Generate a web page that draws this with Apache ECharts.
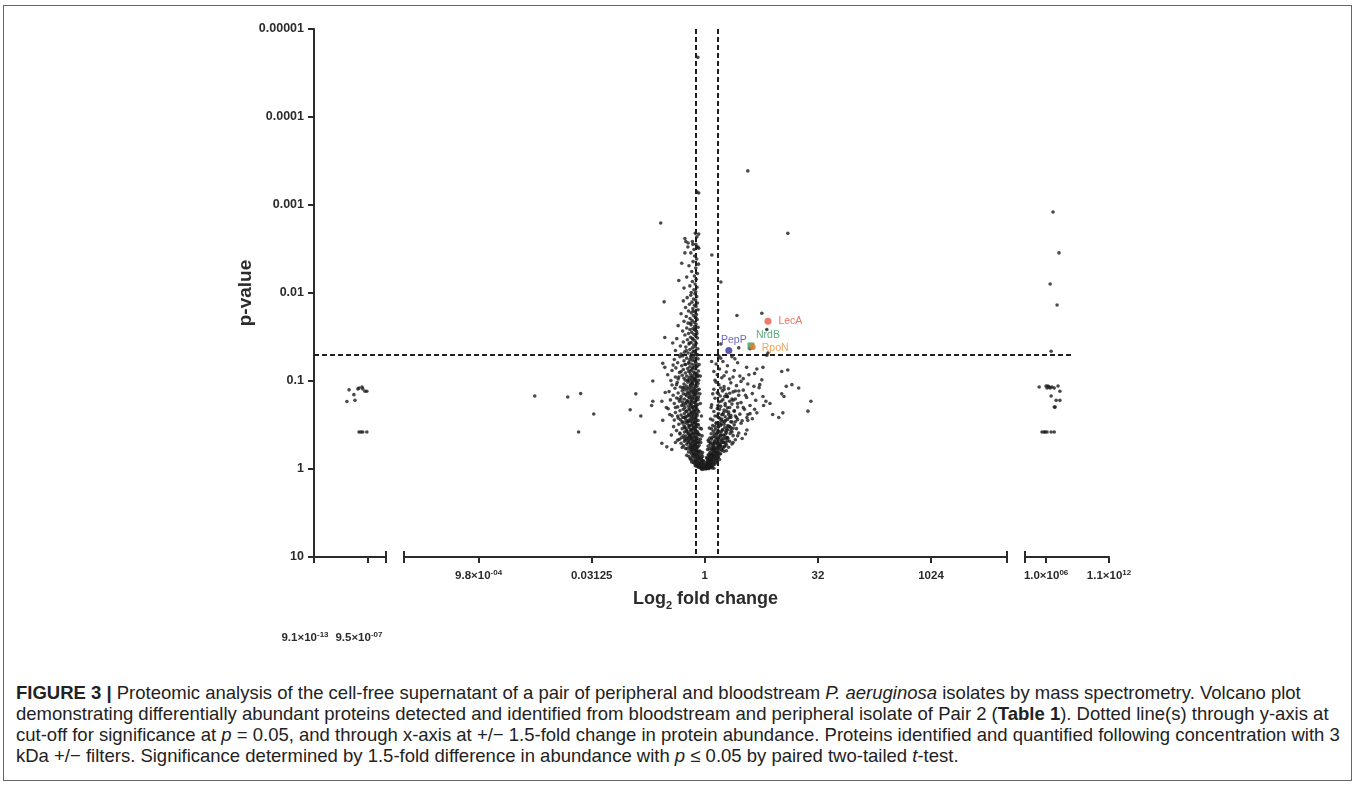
<!DOCTYPE html>
<html>
<head>
<meta charset="utf-8">
<title>Volcano plot - Pair 2</title>
<script src="https://cdn.jsdelivr.net/npm/echarts@6/dist/echarts.min.js"></script>
<style>
  html, body { margin: 0; padding: 0; background: #fff; }
  .frame { position: absolute; left: 3px; top: 5px; width: 1349px; height: 776px; border: 1.5px solid #666; box-sizing: border-box; }
  #chart { position: absolute; left: 0; top: 0; width: 1357px; height: 672px; }
  .caption { position: absolute; left: 16px; top: 682px; font-family: 'Liberation Sans', Arial, sans-serif; font-size: 18.5px; line-height: 21px; color: #222; white-space: nowrap; }
</style>
</head>
<body>
<div class="frame"></div>
<div id="chart"></div>
<div class="caption">
  <div><b>FIGURE 3 |</b> Proteomic analysis of the cell-free supernatant of a pair of peripheral and bloodstream <i>P. aeruginosa</i> isolates by mass spectrometry. Volcano plot</div>
  <div>demonstrating differentially abundant proteins detected and identified from bloodstream and peripheral isolate of Pair 2 (<b>Table 1</b>). Dotted line(s) through y-axis at</div>
  <div>cut-off for significance at <i>p</i> = 0.05, and through x-axis at +/− 1.5-fold change in protein abundance. Proteins identified and quantified following concentration with 3</div>
  <div>kDa +/− filters. Significance determined by 1.5-fold difference in abundance with <i>p</i> ≤ 0.05 by paired two-tailed <i>t</i>-test.</div>
</div>
<script>
// x values are log2 fold change, y values are p-values
const yTickLabels = ['0.00001', '0.0001', '0.001', '0.01', '0.1', '1', '10']; // 10^-5 .. 10^1
const xTicksLeft = [-40, -20];
const xLabelsLeft = ['9.1×10^-13', '9.5×10^-07'];
const xTicksMid = [-10, -5, 0, 5, 10];
const xLabelsMid = ['9.8×10^-04', '0.03125', '1', '32', '1024'];
const xTicksRight = [20, 40];
const xLabelsRight = ['1.0×10^06', '1.1×10^12'];
const segLeft = [-40, -13.3];
const segMid = [-13.3, 13.36];
const segRight = [13.3, 40];
const pCut = 0.05;
const foldCut = [-0.4, 0.585];

const farLeft = [[-27.8,0.171],[-27.0,0.126],[-25.2,0.143],[-24.8,0.166],[-23.7,0.123],[-23.3,0.120],[-22.2,0.117],[-21.9,0.123],[-21.1,0.131],[-20.4,0.131],[-23.3,0.380],[-22.6,0.380],[-21.9,0.380],[-20.4,0.380]];

const farRight = [[22.2,0.0012],[24.1,0.0035],[21.3,0.0079],[23.5,0.0137],[21.6,0.046],[17.8,0.117],[20.0,0.114],[20.3,0.120],[20.6,0.114],[21.0,0.117],[21.3,0.120],[21.9,0.117],[22.6,0.120],[23.8,0.114],[24.4,0.131],[21.6,0.148],[23.2,0.166],[24.4,0.166],[22.6,0.198],[22.9,0.198],[18.7,0.380],[19.4,0.380],[19.7,0.380],[20.3,0.380],[21.6,0.380],[22.6,0.380]];

const midOutliers = [[-0.31,0.000021],[-0.35,0.00071],[-0.27,0.00073],[-0.27,0.00214],[1.90,0.00041],[-1.95,0.0016],[3.67,0.0021],[-0.84,0.0026],[-0.75,0.0030],[-0.53,0.0028],[-0.35,0.0030],[-0.27,0.0031],[0.31,0.0037],[0.71,0.0075],[1.42,0.018],[2.52,0.017],[2.74,0.026],[2.79,0.048],[2.0,0.043],[1.5,0.042],[0.71,0.038],
  [-7.52,0.148],[-6.06,0.152],[-5.49,0.139],[-4.91,0.237],[-5.58,0.380],[-3.30,0.212],[-3.05,0.14],[-2.83,0.25],[-2.3,0.1],[-2.3,0.17],[-2.35,0.19]];

const leftArmTop = [[-0.42,0.0021],[-0.35,0.0023],[-0.88,0.0024],[-0.74,0.0027],[-0.55,0.0026],[-0.40,0.0028],[-0.31,0.0030],[-0.48,0.0032],[-0.62,0.0035],[-0.88,0.0035],[-1.02,0.0046],[-0.45,0.0038],[-0.36,0.0041],[-0.52,0.0044],[-0.70,0.0049],[-0.40,0.0052],[-0.58,0.0057],[-0.33,0.0060],[-0.46,0.0064],[-0.80,0.0066],[-0.38,0.0070],[-0.55,0.0074],[-0.43,0.0079],[-0.66,0.0083],[-0.35,0.0086],[-0.92,0.0088],[-0.48,0.0092],[-0.40,0.0097],[-0.60,0.0099],[-1.15,0.0072],[-0.28,0.0047],
  [-0.44,0.0102],[-0.62,0.0106],[-0.36,0.011],[-0.78,0.0113],[-0.50,0.0117],[-0.41,0.012],[-0.95,0.0123],[-0.57,0.0127],[-0.33,0.013],[-0.68,0.0134],[-0.46,0.0138],[-0.39,0.0142],[-0.85,0.0146],[-0.53,0.015],[-0.30,0.0155],[-0.72,0.016],[-0.44,0.0164],[-0.60,0.0168],[-1.05,0.0172],[-0.37,0.0176],[-0.50,0.018],[-0.82,0.0185],[-0.42,0.019],[-0.65,0.0195],[-0.34,0.02],[-0.56,0.0205],[-0.92,0.021],[-0.47,0.0215],[-0.74,0.022],[-0.39,0.0225],[-0.61,0.023],[-1.18,0.0235],[-0.45,0.024],[-0.30,0.0245],[-0.80,0.025],[-0.53,0.0255],[-0.66,0.026],[-0.42,0.0265],[-0.98,0.027],[-0.36,0.0275],[-0.58,0.028],[-0.72,0.0288],[-0.48,0.0295],[-0.88,0.030],[-0.40,0.031],[-0.63,0.0318],[-1.24,0.033],[-0.33,0.0325],[-0.52,0.0335],[-0.77,0.034],[-0.44,0.035],[-1.42,0.037],[-0.95,0.036],[-0.60,0.0365],[-0.38,0.0372],[-0.70,0.038],[-0.49,0.039],[-1.08,0.040],[-0.84,0.041],[-0.55,0.042],[-0.31,0.043],[-0.66,0.044],[-1.30,0.045],[-0.46,0.046],[-0.90,0.047],[-0.74,0.048],[-0.41,0.049],[-1.05,0.0495],[-0.58,0.0485],[-1.77,0.032],[-1.80,0.0126]];

const leftArmMid = [[-0.35,0.051],[-0.62,0.052],[-1.10,0.053],[-0.48,0.054],[-0.80,0.055],[-0.30,0.056],[-1.35,0.057],[-0.55,0.058],[-0.92,0.059],[-0.42,0.06],[-0.70,0.061],[-1.86,0.063],[-1.20,0.062],[-0.38,0.063],[-0.58,0.064],[-0.85,0.065],[-0.47,0.066],[-1.02,0.067],[-0.33,0.068],[-0.66,0.069],[-1.77,0.07],[-0.52,0.07],[-1.28,0.071],[-0.76,0.072],[-0.40,0.073],[-0.95,0.074],[-0.60,0.075],[-1.45,0.076],[-0.28,0.077],[-0.72,0.078],[-0.50,0.079],[-1.12,0.08],[-0.86,0.081],[-0.36,0.082],[-0.64,0.083],[-1.64,0.085],[-0.45,0.084],[-1.00,0.086],[-0.56,0.087],[-0.80,0.088],[-0.32,0.089],[-1.30,0.09],[-0.68,0.091],[-0.48,0.092],[-0.92,0.093],[-0.40,0.094],[-1.18,0.095],[-0.60,0.096],[-0.75,0.097],[-0.27,0.098],[-1.50,0.099],[-0.53,0.1],[-0.86,0.098],[-0.44,0.0965],[-1.05,0.078],[-0.66,0.057],[-0.25,0.065],[-0.20,0.088],[-1.40,0.066],[-0.98,0.052],
  [-0.40,0.101],[-0.75,0.103],[-1.22,0.104],[-0.55,0.105],[-0.30,0.107],[-0.92,0.108],[-0.62,0.11],[-1.45,0.111],[-0.45,0.112],[-0.82,0.114],[-0.35,0.115],[-1.08,0.117],[-0.58,0.118],[-0.70,0.12],[-1.32,0.121],[-0.48,0.123],[-0.25,0.124],[-0.88,0.126],[-0.63,0.127],[-1.00,0.129],[-0.40,0.13],[-1.58,0.132],[-0.76,0.133],[-0.52,0.135],[-1.18,0.137],[-0.33,0.138],[-0.95,0.14],[-0.66,0.142],[-0.44,0.143],[-1.40,0.145],[-0.80,0.147],[-0.57,0.149],[-1.05,0.15],[-0.28,0.152],[-0.70,0.154],[-1.25,0.156],[-0.47,0.158],[-0.90,0.16],[-0.61,0.162],[-1.90,0.17],[-1.52,0.164],[-0.38,0.166],[-0.78,0.168],[-1.12,0.17],[-0.53,0.172],[-0.98,0.174],[-0.42,0.176],[-0.68,0.178],[-1.35,0.18],[-0.85,0.182],[-0.31,0.185],[-0.59,0.187],[-1.02,0.19],[-0.73,0.192],[-0.46,0.194],[-1.20,0.197],[-0.88,0.2],[-0.55,0.202],[-0.36,0.205],[-1.62,0.207],[-0.95,0.21],[-0.67,0.212],[-0.49,0.215],[-1.10,0.218],[-0.80,0.22],[-0.27,0.223],[-0.61,0.226],[-1.30,0.228],[-0.43,0.231],[-0.90,0.234],[-0.72,0.237],[-0.52,0.24],[-1.05,0.243],[-0.34,0.246],[-1.45,0.249],[-0.78,0.252],[-0.58,0.255],[-0.97,0.258],[-0.40,0.261],[-1.18,0.264],[-0.65,0.268],[-0.85,0.271],[-0.48,0.274],[-1.35,0.278],[-0.30,0.281],[-0.73,0.284],[-1.00,0.288],[-0.55,0.291],[-0.88,0.295],[-0.42,0.298],[-1.86,0.28],[-0.60,0.105],[-0.50,0.128],[-0.35,0.155],[-0.82,0.175],[-0.62,0.195],[-0.45,0.22],[-0.70,0.245],[-0.53,0.265],[-0.38,0.285],[-0.93,0.118],[-0.72,0.138],[-1.15,0.16],[-0.40,0.188],[-0.55,0.232],[-0.85,0.255],[-0.20,0.18],[-0.15,0.25],[-0.22,0.14],[-1.70,0.2],[-1.55,0.24],[-1.75,0.135],[-0.66,0.29],[-1.25,0.11],[-0.48,0.145],[-0.60,0.17],[-0.33,0.215],[-0.77,0.29],[-1.08,0.275]];

const leftArmLow = [[-0.45,0.302],[-0.78,0.306],[-1.15,0.31],[-0.30,0.314],[-0.60,0.318],[-0.92,0.322],[-0.50,0.326],[-1.38,0.33],[-0.38,0.335],[-0.70,0.339],[-0.22,0.343],[-1.00,0.348],[-0.55,0.352],[-0.82,0.357],[-0.42,0.362],[-1.25,0.366],[-0.65,0.371],[-0.33,0.376],[-0.90,0.381],[-0.50,0.386],[-1.10,0.391],[-0.74,0.396],[-0.27,0.401],[-0.58,0.407],[-1.48,0.412],[-0.43,0.418],[-0.85,0.423],[-0.66,0.429],[-0.35,0.435],[-1.02,0.44],[-0.52,0.446],[-0.78,0.452],[-0.20,0.458],[-0.62,0.464],[-1.20,0.47],[-0.45,0.477],[-0.90,0.483],[-0.70,0.49],[-0.30,0.496],[-0.55,0.503],[-1.05,0.51],[-0.40,0.517],[-0.80,0.524],[-0.62,0.531],[-0.25,0.538],[-0.95,0.545],[-0.48,0.552],[-0.70,0.56],[-1.68,0.56],[-1.46,0.6],[-1.90,0.51],[-2.21,0.38],[-0.35,0.568],[-0.58,0.575],[-0.85,0.583],[-0.42,0.59],[-0.65,0.598],[-0.18,0.5],[-0.12,0.42],[-0.15,0.35],[-0.40,0.33],[-0.58,0.36],[-0.70,0.4],[-0.36,0.45],[-0.52,0.48],[-0.62,0.42],[-0.80,0.37],[-0.47,0.395],[-0.28,0.47],[-0.75,0.5],[-0.55,0.55],[-0.40,0.58],[-0.95,0.42],[-1.12,0.46],[-0.68,0.32],[-0.88,0.34],[-0.32,0.39],[-0.45,0.53],[-0.60,0.45],[-0.22,0.41],[-1.30,0.5],[-0.85,0.47],[-0.50,0.34],[-0.73,0.44],[-0.38,0.51],[-0.62,0.57],[-0.30,0.56],[-1.00,0.57],[-0.50,0.6],[-0.78,0.59],
  [-0.35,0.61],[-0.55,0.62],[-0.20,0.63],[-0.72,0.64],[-0.42,0.65],[-0.28,0.66],[-0.60,0.67],[-0.15,0.68],[-0.48,0.69],[-0.80,0.7],[-0.33,0.71],[-0.10,0.72],[-0.55,0.73],[-0.25,0.74],[-0.40,0.75],[-0.65,0.76],[-0.18,0.77],[-0.30,0.78],[-0.50,0.79],[-0.08,0.8],[-0.38,0.81],[-0.22,0.82],[-0.58,0.83],[-0.12,0.84],[-0.30,0.85],[-0.45,0.86],[-0.05,0.87],[-0.20,0.88],[-0.35,0.89],[-0.10,0.9],[-0.27,0.91],[-0.42,0.92],[-0.02,0.93],[-0.16,0.94],[-0.30,0.95],[-0.08,0.96],[-0.20,0.97],[-0.12,0.98],[0.00,0.99],[-0.05,1.0],[-0.15,0.995],[0.05,0.985],[-0.25,0.955],[-0.40,0.9],[-0.50,0.85],[-0.62,0.78],[-0.70,0.72],[-0.45,0.68],[-0.60,0.64],[-0.25,0.625],[-0.10,0.65],[-0.32,0.7],[-0.15,0.75],[-0.05,0.82],[-0.35,0.93],[0.02,0.9],[-0.22,0.86],[-0.42,0.8],[-0.52,0.7],[-0.38,0.62]];

const leftArmCore = [[-0.52,0.016],[-0.40,0.019],[-0.63,0.022],[-0.45,0.026],[-0.35,0.029],[-0.55,0.033],[-0.68,0.037],[-0.42,0.041],[-0.50,0.046],[-0.33,0.05],[-0.60,0.054],[-0.45,0.059],[-0.72,0.063],[-0.38,0.068],[-0.53,0.072],[-0.65,0.077],[-0.43,0.081],[-0.30,0.086],[-0.58,0.09],[-0.48,0.095],[-0.70,0.099],[-0.36,0.103],[-0.55,0.108],[-0.65,0.113],[-0.43,0.118],[-0.78,0.122],[-0.32,0.127],[-0.60,0.132],[-0.50,0.137],[-0.85,0.142],[-0.40,0.147],[-0.68,0.152],[-0.55,0.157],[-0.30,0.163],[-0.75,0.169],[-0.46,0.175],[-0.62,0.181],[-0.95,0.187],[-0.38,0.193],[-0.52,0.2],[-0.70,0.207],[-0.44,0.214],[-0.83,0.221],[-0.58,0.228],[-0.35,0.236],[-0.66,0.244],[-0.50,0.252],[-0.92,0.26],[-0.40,0.268],[-0.60,0.277],[-0.76,0.286],[-0.45,0.295],[-0.55,0.305],[-0.30,0.315],[-0.70,0.325],[-0.88,0.335],[-0.48,0.346],[-0.62,0.357],[-0.40,0.368],[-0.78,0.38],[-0.55,0.392],[-0.32,0.404],[-0.68,0.417],[-0.46,0.43],[-0.58,0.443],[-0.38,0.457],[-0.72,0.471],[-0.50,0.486],[-0.28,0.5],[-0.63,0.515],[-0.43,0.53],[-0.55,0.545],[-0.33,0.56],[-0.48,0.58],[-0.60,0.6],[-0.40,0.62],[-0.28,0.64],[-0.50,0.66],[-0.36,0.68],[-0.22,0.71],[-0.45,0.73],[-0.30,0.76],[-0.15,0.79],[-0.38,0.82],[-0.25,0.85],[-0.10,0.88],[-0.30,0.91],[-0.18,0.94],[-0.05,0.97],[-0.12,1.01],[-1.00,0.3],[-1.20,0.25],[-1.10,0.4],[-0.90,0.45],[-1.30,0.2],[-1.05,0.16],[-0.98,0.12],[-1.15,0.09],[-0.88,0.065],[-0.82,0.045]];

const rightArmLow = [[0.05,0.99],[0.12,0.97],[0.20,0.95],[0.08,0.94],[0.15,0.92],[0.28,0.9],[0.10,0.89],[0.22,0.87],[0.35,0.85],[0.05,0.84],[0.18,0.83],[0.30,0.81],[0.42,0.8],[0.12,0.79],[0.25,0.77],[0.50,0.76],[0.36,0.75],[0.08,0.74],[0.20,0.73],[0.60,0.72],[0.45,0.71],[0.30,0.7],[0.15,0.69],[0.55,0.68],[0.70,0.67],[0.38,0.66],[0.22,0.65],[0.48,0.64],[0.85,0.63],[0.62,0.62],[0.32,0.61],[0.12,0.6],[0.75,0.6],[0.40,0.98],[0.25,0.96],[0.18,0.99],[0.32,0.93],[0.45,0.88],[0.55,0.83],[0.65,0.78],[0.28,0.78],[0.40,0.72],[0.18,0.7],[0.52,0.66],[0.95,0.62],[0.06,0.91],[0.14,0.86],[0.26,0.84],[0.10,0.76],[0.35,0.68],
  [0.20,0.59],[0.45,0.585],[0.80,0.58],[0.30,0.57],[1.05,0.565],[0.58,0.56],[0.15,0.55],[0.70,0.545],[0.40,0.54],[0.95,0.53],[0.25,0.525],[1.20,0.52],[0.55,0.515],[0.35,0.51],[0.85,0.5],[0.62,0.495],[0.18,0.49],[1.10,0.485],[0.45,0.48],[0.75,0.47],[1.35,0.465],[0.30,0.46],[0.90,0.455],[0.58,0.45],[0.22,0.445],[1.00,0.44],[0.68,0.432],[0.40,0.425],[1.25,0.418],[0.82,0.41],[0.52,0.404],[0.28,0.398],[1.50,0.39],[0.95,0.384],[0.65,0.378],[0.38,0.372],[1.15,0.366],[0.78,0.36],[1.86,0.36],[0.48,0.354],[1.40,0.348],[0.20,0.343],[0.88,0.338],[0.60,0.332],[1.05,0.326],[0.35,0.32],[1.30,0.315],[0.72,0.31],[0.50,0.305],[1.60,0.302],[0.98,0.35],[0.42,0.4],[0.65,0.52],[0.32,0.44],[0.55,0.39],[0.80,0.45],[1.20,0.38],[0.25,0.5],[0.45,0.33],[0.70,0.41],[1.00,0.48],[0.88,0.55],[0.38,0.58],[0.15,0.47],[1.45,0.42],[0.60,0.37],[0.30,0.35],[1.10,0.33],[0.75,0.5],[0.50,0.46],[0.92,0.4],[0.55,0.58],[1.65,0.45],[0.40,0.52],[1.25,0.5],[1.80,0.4],[0.70,0.32]];

const rightArmCore = [[0.08,0.995],[0.15,0.975],[0.22,0.96],[0.10,0.945],[0.30,0.93],[0.18,0.91],[0.38,0.895],[0.12,0.875],[0.26,0.86],[0.45,0.845],[0.20,0.825],[0.33,0.81],[0.52,0.795],[0.15,0.78],[0.40,0.765],[0.28,0.75],[0.58,0.735],[0.22,0.72],[0.46,0.705],[0.35,0.69],[0.66,0.675],[0.28,0.66],[0.52,0.645],[0.40,0.63],[0.75,0.615],[0.30,0.6],[0.60,0.59],[0.48,0.575],[0.85,0.56],[0.36,0.55],[0.68,0.535],[0.55,0.52],[0.92,0.505],[0.42,0.49],[0.75,0.475],[0.62,0.46],[1.02,0.45],[0.48,0.435],[0.85,0.42],[0.70,0.41],[1.12,0.395],[0.55,0.382],[0.92,0.37],[0.78,0.358],[1.25,0.345],[0.60,0.333],[1.00,0.322],[0.85,0.31],[0.66,0.3],[1.35,0.29],[0.92,0.28],[0.75,0.27],[1.15,0.26],[0.55,0.25],[1.05,0.24],[0.82,0.23],[1.30,0.22],[0.65,0.21],[1.10,0.2],[0.90,0.19],[1.45,0.18],[0.72,0.17],[1.20,0.16],[0.98,0.15],[0.60,0.14],[1.35,0.13],[0.85,0.125],[1.10,0.138],[0.48,0.62],[0.25,0.8],[0.35,0.7],[0.58,0.65],[0.70,0.55],[0.42,0.73],[0.18,0.88],[0.32,0.97],[0.80,0.5],[0.95,0.44],[0.60,0.43],[0.50,0.5],[1.15,0.34],[0.72,0.38],[0.40,0.6],[0.28,0.68],[0.88,0.29],[1.00,0.36],[0.65,0.57],[0.22,0.77],[0.12,0.85],[0.55,0.76]];

const rightArmHigh = [[0.50,0.298],[1.20,0.293],[0.80,0.288],[1.65,0.283],[0.35,0.278],[1.00,0.273],[2.10,0.268],[0.65,0.264],[1.40,0.26],[0.90,0.255],[1.90,0.28],[0.45,0.25],[1.15,0.246],[0.75,0.242],[1.55,0.238],[0.60,0.234],[2.30,0.23],[1.05,0.226],[0.40,0.222],[1.30,0.218],[0.85,0.214],[1.75,0.21],[0.55,0.206],[1.00,0.202],[1.45,0.198],[0.70,0.194],[2.00,0.19],[0.30,0.187],[1.20,0.183],[0.90,0.18],[1.60,0.176],[0.62,0.173],[1.10,0.17],[2.25,0.166],[0.80,0.163],[1.35,0.16],[0.45,0.157],[1.85,0.154],[1.00,0.151],[0.68,0.148],[1.50,0.145],[0.95,0.142],[2.10,0.139],[0.55,0.136],[1.25,0.133],[0.78,0.13],[1.70,0.127],[0.40,0.124],[1.05,0.122],[2.40,0.119],[0.85,0.116],[1.40,0.113],[0.62,0.11],[1.90,0.108],[1.15,0.105],[0.50,0.103],[1.60,0.101],[0.72,0.28],[1.35,0.25],[0.95,0.22],[1.70,0.2],[0.58,0.19],[1.25,0.165],[0.88,0.15],[1.50,0.13],[0.70,0.12],[1.08,0.26],[2.60,0.19],[2.70,0.17],[2.57,0.15],[2.88,0.18],[3.00,0.24],[3.45,0.23],[3.27,0.26],[3.40,0.14],[3.50,0.15],[4.69,0.17],[4.56,0.22],[4.15,0.12],[3.85,0.11],[3.60,0.115],[2.43,0.11],[2.17,0.115],[1.86,0.26],[1.90,0.24],[2.20,0.21],[2.00,0.235],[0.35,0.14],[0.28,0.2],[0.25,0.27],[1.80,0.145],[1.15,0.29],[0.80,0.24],[1.45,0.275],[0.60,0.26],
  [0.45,0.098],[1.10,0.095],[0.75,0.092],[1.55,0.088],[0.55,0.085],[2.20,0.082],[0.95,0.079],[1.30,0.076],[0.65,0.073],[2.30,0.073],[2.57,0.07],[1.85,0.07],[1.00,0.067],[0.50,0.064],[1.45,0.062],[0.80,0.06],[1.33,0.056],[1.20,0.053],[0.62,0.052],[2.74,0.051],[3.67,0.075],[3.40,0.078],[2.52,0.097],[1.70,0.094],[0.85,0.087],[0.40,0.078],[1.25,0.09],[0.30,0.06],[0.70,0.055],[1.95,0.085]];

const hitNames = ['PepP', 'NrdB', 'RpoN', 'LecA'];
const hitFC = [1.06, 2.04, 2.12, 2.79];
const hitP = [0.045, 0.040, 0.041, 0.021];

const FONT = "'Liberation Sans', Arial, sans-serif";
const INK = '#2b2b2b';

const chart = echarts.init(document.getElementById('chart'));

const tickRich = {
  m: { fontFamily: FONT, fontSize: 11.5, fontWeight: 'bold', color: INK, lineHeight: 14 },
  s: { fontFamily: FONT, fontSize: 8, fontWeight: 'bold', color: INK, lineHeight: 14, verticalAlign: 'top' }
};

function tickText(s) {
  const parts = s.split('^');
  return parts.length > 1 ? '{m|' + parts[0] + '}{s|' + parts[1] + '}' : '{m|' + s + '}';
}

function mainX(grid, seg, ticks, labels, margin, pad) {
  return {
    type: 'value', gridIndex: grid, min: seg[0], max: seg[1], position: 'bottom',
    axisLine: { show: true, onZero: false, lineStyle: { color: INK, width: 2 } },
    axisTick: { show: true, length: 6, lineStyle: { color: INK, width: 2 }, customValues: ticks.concat(seg) },
    axisLabel: {
      margin: margin, customValues: ticks, rich: tickRich, padding: pad || 0,
      formatter: v => {
        const i = ticks.findIndex(t => Math.abs(t - v) < 1e-6);
        return i < 0 ? '' : tickText(labels[i]);
      }
    },
    splitLine: { show: false }
  };
}

// little upward caps at the ends of each broken axis piece
function capX(grid, seg, ends) {
  return {
    type: 'value', gridIndex: grid, min: seg[0], max: seg[1], position: 'bottom', offset: 0,
    axisLine: { show: false },
    axisTick: { show: true, inside: true, length: 6, lineStyle: { color: INK, width: 2 }, customValues: ends },
    axisLabel: { show: false },
    splitLine: { show: false }
  };
}

function logY(grid, show) {
  return {
    type: 'log', logBase: 10, gridIndex: grid, min: 1e-5, max: 10, inverse: true, show: show,
    axisLine: { show: true, onZero: false, lineStyle: { color: INK, width: 2 } },
    axisTick: { show: true, length: 6, lineStyle: { color: INK, width: 2 } },
    axisLabel: {
      margin: 10, fontFamily: FONT, fontSize: 12.5, fontWeight: 'bold', color: INK,
      formatter: v => yTickLabels[Math.round(Math.log10(v)) + 5] || ''
    },
    minorTick: { show: false },
    splitLine: { show: false }
  };
}

const dot = { color: '#1c1c1c' };
const dash = { color: '#1e1e1e', width: 2, type: [5, 3] };

const hitStyle = {
  PepP: { color: '#2f2f9f', symbol: 'circle', size: 7, pos: 'top', offset: [5, 3], label: '#4545b0' },
  NrdB: { color: '#3b9a66', symbol: 'rect', size: 7, pos: 'top', offset: [17, 2], label: '#35955f' },
  RpoN: { color: '#f07b2a', symbol: 'circle', size: 6, pos: 'right', offset: [2, 1], label: '#f28c35' },
  LecA: { color: '#ee5744', symbol: 'circle', size: 7, pos: 'right', offset: [3, 0], label: '#ea4d3a' }
};

const option = {
  animation: false,
  grid: [
    { left: 314, top: 29, width: 72, height: 528 },
    { left: 404, top: 29, width: 603, height: 528 },
    { left: 1025, top: 29, width: 84, height: 528 },
    { left: 314, top: 29, width: 758, height: 528 }
  ],
  xAxis: [
    mainX(0, segLeft, xTicksLeft, xLabelsLeft, 74, [0, 18, 0, 0]),
    Object.assign(mainX(1, segMid, xTicksMid, xLabelsMid, 12), {
      name: '{t|Log}{b|2}{t| fold change}', nameLocation: 'middle', nameGap: 30,
      nameTextStyle: {
        rich: {
          t: { fontFamily: FONT, fontSize: 18, fontWeight: 'bold', color: INK, lineHeight: 24 },
          b: { fontFamily: FONT, fontSize: 11, fontWeight: 'bold', color: INK, lineHeight: 24, verticalAlign: 'bottom' }
        }
      }
    }),
    mainX(2, segRight, xTicksRight, xLabelsRight, 12),
    capX(0, segLeft, [segLeft[1]]),
    capX(1, segMid, segMid),
    capX(2, segRight, [segRight[0]]),
    { type: 'value', gridIndex: 3, min: 0, max: 1, show: false }
  ],
  yAxis: [
    Object.assign(logY(0, true), {
      name: 'p-value', nameLocation: 'middle', nameGap: 55, nameRotate: 90,
      nameTextStyle: { fontFamily: FONT, fontSize: 19, fontWeight: 'bold', color: INK }
    }),
    logY(1, false),
    logY(2, false),
    logY(3, false)
  ],
  series: [
    { type: 'scatter', xAxisIndex: 0, yAxisIndex: 0, symbolSize: 3.6, itemStyle: dot, data: farLeft },
    {
      type: 'scatter', xAxisIndex: 1, yAxisIndex: 1, symbolSize: 3.6, itemStyle: dot,
      data: midOutliers.concat(leftArmTop, leftArmMid, leftArmLow, leftArmCore, rightArmLow, rightArmCore, rightArmHigh),
      markLine: {
        silent: true, symbol: ['none', 'none'], label: { show: false }, lineStyle: dash,
        data: foldCut.map(v => ({ xAxis: v }))
      }
    },
    { type: 'scatter', xAxisIndex: 2, yAxisIndex: 2, symbolSize: 3.6, itemStyle: dot, data: farRight },
    {
      type: 'scatter', xAxisIndex: 1, yAxisIndex: 1,
      data: hitNames.map((n, i) => {
        const s = hitStyle[n];
        return {
          name: n, value: [hitFC[i], hitP[i]], symbol: s.symbol, symbolSize: s.size,
          itemStyle: { color: s.color },
          label: {
            show: true, formatter: n, position: s.pos, offset: s.offset, distance: 4,
            fontFamily: FONT, fontSize: 10.5, color: s.label
          }
        };
      })
    },
    {
      type: 'line', xAxisIndex: 6, yAxisIndex: 3, data: [],
      markLine: {
        silent: true, symbol: ['none', 'none'], label: { show: false }, lineStyle: dash,
        data: [{ yAxis: pCut }]
      }
    }
  ]
};

chart.setOption(option);
</script>
</body>
</html>
